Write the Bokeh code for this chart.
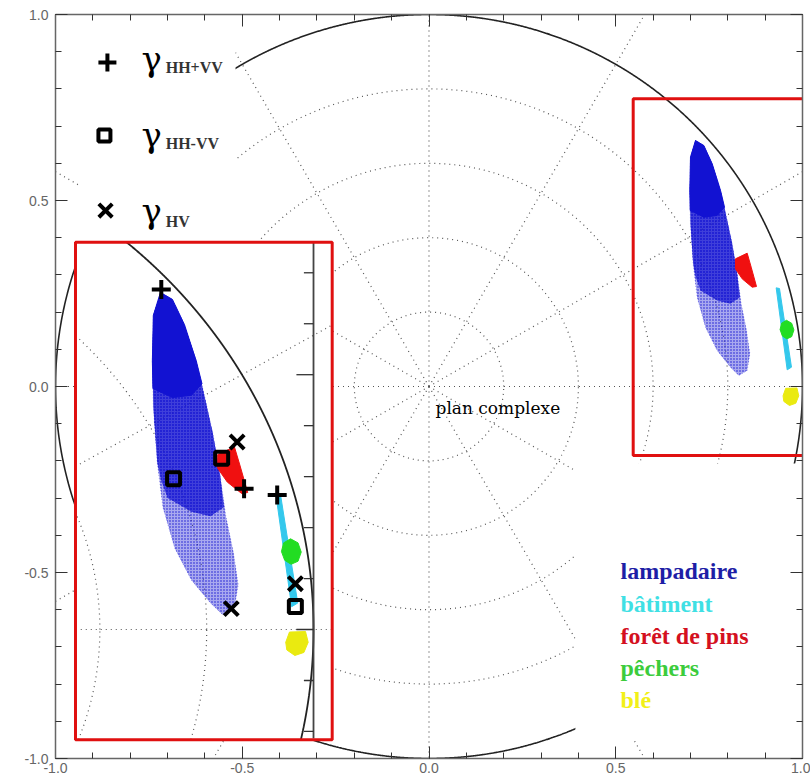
import numpy as np
from bokeh.plotting import figure
from bokeh.models import Range1d, LinearAxis, SingleIntervalTicker, NumeralTickFormatter, CustomJSTickFormatter
from bokeh.embed import file_html
from bokeh.resources import INLINE
from bokeh.core.properties import value

# ---------------- data (complex plane) ----------------
# lampadaire region: sparse outer outline, medium-density outline, dense core
lamp_outer_x = [0.7135, 0.7358, 0.7582, 0.7805, 0.7965, 0.8117, 0.8251, 0.8358, 0.8501, 0.8590,
                0.8518, 0.8295, 0.8072, 0.7716, 0.7403, 0.7180, 0.7073, 0.7001, 0.6983, 0.7001]
lamp_outer_y = [0.6613, 0.6478, 0.5986, 0.5269, 0.4552, 0.3835, 0.3029, 0.2222, 0.1505, 0.0878,
                0.0430, 0.0296, 0.0520, 0.0968, 0.1595, 0.2401, 0.3297, 0.4373, 0.5269, 0.6165]
lamp_mid_x = [0.7135, 0.7358, 0.7582, 0.7805, 0.7965, 0.8117, 0.8251, 0.8322, 0.8072, 0.7716,
              0.7269, 0.7144, 0.7073, 0.7001, 0.6983, 0.7001]
lamp_mid_y = [0.6613, 0.6478, 0.5986, 0.5269, 0.4552, 0.3835, 0.3029, 0.2401, 0.2222, 0.2312,
              0.2581, 0.2939, 0.3297, 0.4373, 0.5269, 0.6165]
lamp_core_x = [0.7135, 0.7358, 0.7582, 0.7805, 0.7912, 0.7716, 0.7358, 0.6993, 0.6983, 0.7001]
lamp_core_y = [0.6613, 0.6478, 0.5986, 0.5269, 0.4821, 0.4597, 0.4552, 0.4731, 0.5269, 0.6165]
foret_x = [0.8206, 0.8519, 0.8626, 0.8768, 0.8653, 0.8385, 0.8206]
foret_y = [0.3432, 0.3584, 0.3208, 0.2688, 0.2670, 0.2894, 0.3163]
bat_x = [0.9295, 0.9384, 0.9705, 0.9590]
bat_y = [0.2652, 0.2634, 0.0520, 0.0448]
pech_x = [0.944, 0.957, 0.971, 0.977, 0.971, 0.958, 0.946, 0.940]
pech_y = [0.170, 0.178, 0.170, 0.152, 0.134, 0.128, 0.136, 0.153]
ble_x = [0.955, 0.985, 0.990, 0.982, 0.965, 0.950, 0.948]
ble_y = [-0.005, -0.004, -0.025, -0.045, -0.051, -0.040, -0.025]

# coherences (order: lampadaire, forêt de pins, bâtiment)
g_hh_plus_vv_x = [0.715, 0.870, 0.932]
g_hh_plus_vv_y = [0.667, 0.276, 0.264]
g_hh_minus_vv_x = [0.738, 0.828, 0.966]
g_hh_minus_vv_y = [0.296, 0.336, 0.045]
g_hv_x = [0.846, 0.857, 0.966]
g_hv_y = [0.041, 0.368, 0.090]

class_names = ["lampadaire", "bâtiment", "forêt de pins", "pêchers", "blé"]
class_text_colors = ["#1e1ea6", "#3fe0e4", "#d4101e", "#3ccc3c", "#f2f018"]
marker_names = ["HH+VV", "HH-VV", "HV"]

grid_radii = [0.2, 0.4, 0.6, 0.8]
grid_angles = list(range(0, 360, 30))
tick_values = [round(-1.0 + 0.1 * i, 1) for i in range(21)]

# ---------------- layout constants ----------------
BLUE, RED, CYAN, GREEN, YELLOW = "#1212d2", "#f01010", "#34c8ec", "#22dd22", "#eaea10"
DOT = "1 4"
GRID_C = "#555555"

ZX0, ZY0 = 0.7135, 0.6613          # anchor in main plane
IX0, IY0 = -0.7189, 0.2527         # anchor in inset
SX, SY = 1.43, 1.37                # inset magnification
IL, IR, IB, IT = -0.9465, -0.2592, -0.9497, 0.3879    # inset box
ZL, ZR, ZB, ZT = 0.5467, 1.03, -0.1855, 0.7734        # zoomed region box


def to_inset(x, y):
    x = np.asarray(x, float)
    y = np.asarray(y, float)
    return IX0 + SX * (x - ZX0), IY0 + SY * (y - ZY0)


def clip(X, Y):
    X = X.copy(); Y = Y.copy()
    m = (X < IL) | (X > IR) | (Y < IB) | (Y > IT)
    X[m] = np.nan; Y[m] = np.nan
    return X, Y


def circle_line(r, n=3000):
    t = np.linspace(0, 2 * np.pi, n)
    return r * np.cos(t), r * np.sin(t)


def radial_line(deg, n=600):
    r = np.linspace(0, 1.6, n)
    a = np.deg2rad(deg)
    return r * np.cos(a), r * np.sin(a)


p = figure(width=810, height=778, x_range=Range1d(-1, 1), y_range=Range1d(-1, 1),
           x_axis_type=None, y_axis_type=None, output_backend="svg", toolbar_location=None,
           min_border_left=55, min_border_right=8, min_border_top=14, min_border_bottom=20)
p.outline_line_color = None
p.background_fill_color = "white"


def make_axis(labels, standoff=4):
    ax = LinearAxis(ticker=SingleIntervalTicker(interval=0.5, num_minor_ticks=5))
    ax.major_tick_in = 12
    ax.major_tick_out = 0
    ax.minor_tick_in = 6
    ax.minor_tick_out = 0
    ax.axis_line_color = "#666666"
    ax.axis_line_width = 1.5
    ax.major_tick_line_color = "#333333"
    ax.minor_tick_line_color = "#333333"
    ax.major_label_text_font = "Liberation Sans"
    ax.major_label_text_font_size = "14px"
    ax.major_label_text_color = "#666666"
    ax.major_label_standoff = standoff
    if labels:
        ax.formatter = NumeralTickFormatter(format="0.0")
    else:
        ax.formatter = CustomJSTickFormatter(code="return ''")
        ax.major_label_standoff = 0
    return ax


p.add_layout(make_axis(True, 4), "below")
p.add_layout(make_axis(True, 7), "left")
p.add_layout(make_axis(False), "above")
p.add_layout(make_axis(False), "right")

# ---------------- main polar grid ----------------
for r in grid_radii:
    cx, cy = circle_line(r)
    p.line(cx, cy, line_color=GRID_C, line_dash=DOT, line_width=1.2)
for a in grid_angles:
    rx, ry = radial_line(a)
    p.line(rx, ry, line_color=GRID_C, line_dash=DOT, line_width=1.2)
ux, uy = circle_line(1.0)
p.line(ux, uy, line_color="#222222", line_width=1.6)

# ---------------- clusters ----------------
def draw_clusters(tf):
    X, Y = tf(lamp_outer_x, lamp_outer_y)
    p.patch(X, Y, fill_color=BLUE, fill_alpha=0.36, line_color=BLUE, line_alpha=0.45, line_width=0.8,
            line_dash="1 2", hatch_pattern="dot", hatch_color=BLUE, hatch_scale=3, hatch_weight=1.2)
    X, Y = tf(lamp_mid_x, lamp_mid_y)
    p.patch(X, Y, fill_color=BLUE, fill_alpha=0.7, line_color=None,
            hatch_pattern="dot", hatch_color=BLUE, hatch_scale=3, hatch_weight=1.2)
    X, Y = tf(lamp_core_x, lamp_core_y)
    p.patch(X, Y, fill_color=BLUE, fill_alpha=1.0, line_color=BLUE, line_width=1)
    X, Y = tf(foret_x, foret_y)
    p.patch(X, Y, fill_color=RED, line_color=RED, line_width=1)
    X, Y = tf(bat_x, bat_y)
    p.patch(X, Y, fill_color=CYAN, line_color=CYAN, line_width=1)
    X, Y = tf(pech_x, pech_y)
    p.patch(X, Y, fill_color=GREEN, line_color=GREEN, line_width=1)
    X, Y = tf(ble_x, ble_y)
    p.patch(X, Y, fill_color=YELLOW, line_color=YELLOW, line_width=1)


draw_clusters(lambda x, y: (np.asarray(x, float), np.asarray(y, float)))

# zoomed-region box
p.quad(left=[ZL], right=[ZR], bottom=[ZB], top=[ZT], fill_color=None, line_color="#e01010", line_width=3)

# white label areas
p.quad(left=[-0.933], right=[-0.518], bottom=[IT], top=[1.0], fill_color="white", line_color=None)
p.quad(left=[0.392], right=[1.0], bottom=[-0.946], top=[-0.207], fill_color="white", line_color=None)

# ---------------- inset (magnified view) ----------------
p.quad(left=[IL], right=[IR], bottom=[IB], top=[IT], fill_color="white", line_color=None)
for r in grid_radii:
    X, Y = clip(*to_inset(*circle_line(r, 6000)))
    p.line(X, Y, line_color=GRID_C, line_dash=DOT, line_width=1.2)
for a in grid_angles:
    X, Y = clip(*to_inset(*radial_line(a, 3000)))
    p.line(X, Y, line_color=GRID_C, line_dash=DOT, line_width=1.2)
X, Y = clip(*to_inset(*circle_line(1.0, 8000)))
p.line(X, Y, line_color="#222222", line_width=1.8)
# frame edge (x = 1) with its ticks, magnified
ay = np.linspace(-1, 1, 800)
X, Y = clip(*to_inset(np.ones_like(ay), ay))
p.line(X, Y, line_color="#444444", line_width=1.8)
tv = np.array(tick_values)
tl = np.where(np.isclose(np.abs(tv * 2 - np.round(tv * 2)), 0), 0.032, 0.018)
X0, Y0 = to_inset(np.ones_like(tv), tv)
X1, Y1 = to_inset(1 - tl, tv)
keep = (Y0 > IB) & (Y0 < IT)
p.segment(X0[keep], Y0[keep], X1[keep], Y1[keep], line_color="#333333", line_width=1.3)

draw_clusters(to_inset)

MS = dict(line_color="black", line_width=4)
X, Y = to_inset(g_hh_plus_vv_x, g_hh_plus_vv_y)
p.scatter(X, Y, marker="cross", size=19, **MS)
X, Y = to_inset(g_hh_minus_vv_x, g_hh_minus_vv_y)
p.scatter(X, Y, marker="square", size=13, fill_color=None, **MS)
X, Y = to_inset(g_hv_x, g_hv_y)
p.scatter(X, Y, marker="x", size=20, **MS)

p.quad(left=[IL], right=[IR], bottom=[IB], top=[IT], fill_color=None, line_color="#e01010", line_width=3)

# ---------------- legends ----------------
leg_mx = [-0.861, -0.869, -0.866]
leg_my = [0.871, 0.675, 0.473]
p.scatter([leg_mx[0]], [leg_my[0]], marker="cross", size=18, **MS)
p.scatter([leg_mx[1]], [leg_my[1]], marker="square", size=12, fill_color=None, **MS)
p.scatter([leg_mx[2]], [leg_my[2]], marker="x", size=19, **MS)

p.text(x=[-0.770] * 3, y=[0.8817, 0.6774, 0.4731], text=["γ"] * 3,
       text_font=value("DejaVu Serif"), text_font_size="34px", text_color="black",
       text_baseline="alphabetic", text_align="left")
p.text(x=[-0.705] * 3, y=[0.8575, 0.6532, 0.4435], text=marker_names,
       text_font=value("Liberation Serif"), text_font_style="bold", text_font_size="16px",
       text_color="#333333", text_baseline="alphabetic", text_align="left")

p.text(x=[0.5127] * 5, y=[-0.4973, -0.5860, -0.6720, -0.7554, -0.8414], text=class_names,
       text_color=class_text_colors, text_font=value("Liberation Serif"), text_font_style="bold",
       text_font_size="24px", text_baseline="alphabetic", text_align="left")

p.text(x=[0.0174], y=[-0.0565], text=["plan complexe"], text_font=value("DejaVu Serif"),
       text_font_size="17px", text_color="black", text_baseline="alphabetic", text_align="left")

open("out.html", "w").write(file_html(p, INLINE))
